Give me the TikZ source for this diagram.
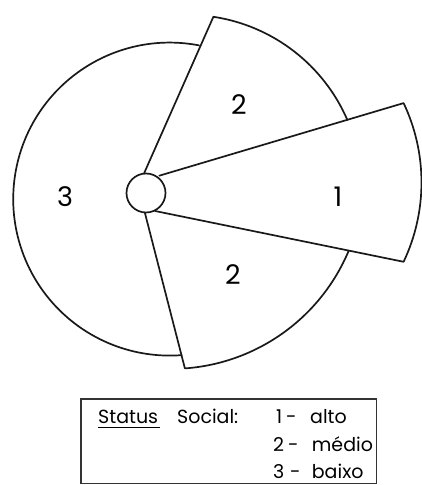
\documentclass[tikz,border=0pt]{standalone}
\usepackage{fontspec}
\setmainfont{Poppins}
\begin{document}
\begin{tikzpicture}[x=1pt,y=1pt,
  ink/.style={line width=1.7pt, line join=round, line cap=round, black!90},
  num/.style={font=\fontsize{27}{27}\selectfont, inner sep=0pt},
  leg/.style={font=\fontsize{19}{19}\selectfont, inner sep=0pt, anchor=base west}]
\useasboundingbox (0,0) rectangle (422,485);
% centres
\coordinate (hub) at (146,292);
\coordinate (c3) at (169.7,285.9);
% sector 3 (large circle arc)
\draw[ink] (c3) ++(79.2:156.5) arc[start angle=79.2, end angle=274.4, radius=156.5];
% upper sector 2
\coordinate (u0) at (144,311.5);
\coordinate (uA) at (213.4,468.2);
\draw[ink] (u0) -- (uA) arc[start angle=81.4, end angle=23.4, radius=174.4];
% sector 1
\coordinate (s1a) at (159.3,309.3);
\coordinate (s1q) at (403.6,381.9);
\coordinate (s1b) at (155,274);
\draw[ink] (s1a) -- (s1q) arc[start angle=25.4, end angle=-25.4, radius=185] -- (s1b);
% lower sector 2
\coordinate (l0) at (145,271.7);
\coordinate (lB) at (184.9,116.6);
\draw[ink] (l0) -- (lB) arc[start angle=-85.9, end angle=-22.7, radius=192.5];
% hub circle
\draw[ink, fill=white] (hub) circle[radius=19.5];
% numbers
\node[num] (n2u) at (239,380) {2};
\node[num] (n2l) at (233,210) {2};
\node[num] (n3) at (65,288) {3};
\node[num] (n1) at (338,288) {1};
% legend
\draw[line width=1.3pt, black!80] (81,1.7) rectangle (376.5,86) ;
\node[leg] (st) at (98,61.7) {Status};
\draw[line width=1.1pt] (98,57.3) -- (160,57.3);
\node[leg] (so) at (177,61.7) {Social:};
\node[leg] (k1) at (276,61.7) {1};
\node[leg] (d1) at (286,61.7) {-};
\node[leg] (t1) at (310,61.7) {alto};
\node[leg] (k2) at (273,34) {2};
\node[leg] (d2) at (288,34) {-};
\node[leg] (t2) at (311.7,34) {médio};
\node[leg] (k3) at (273,6.7) {3};
\node[leg] (d3) at (290,6.7) {-};
\node[leg] (t3) at (311.7,6.7) {baixo};
\end{tikzpicture}
\end{document}
